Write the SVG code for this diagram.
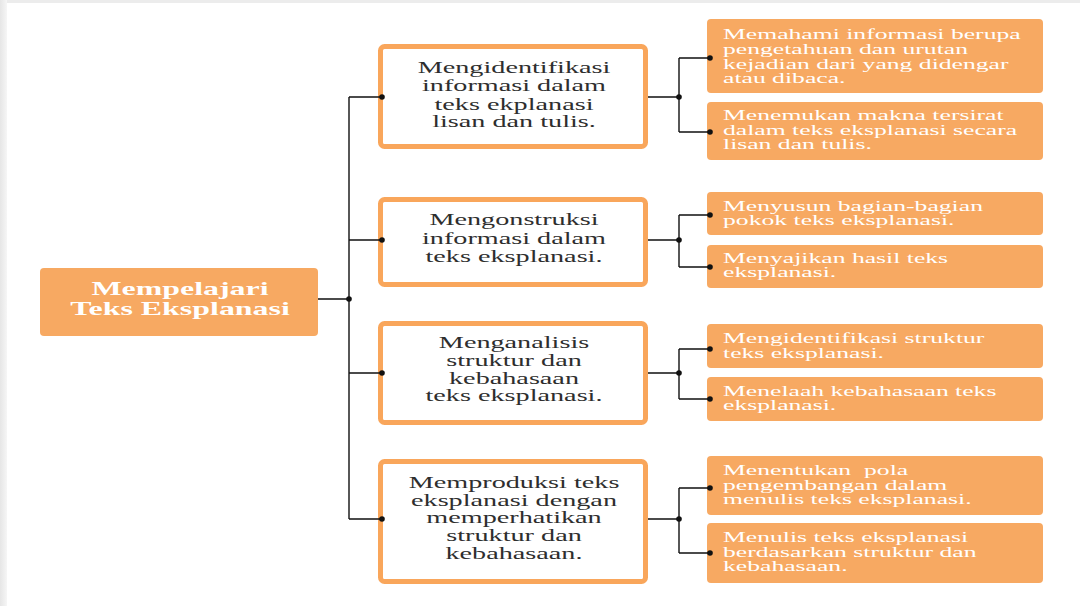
<svg xmlns="http://www.w3.org/2000/svg" width="1080" height="606" viewBox="0 0 1080 606">
<defs>
<linearGradient id="lg" x1="0" y1="0" x2="1" y2="0">
<stop offset="0" stop-color="#e6e6e6"/><stop offset="1" stop-color="#f6f6f6"/>
</linearGradient>
<style>
.root{fill:#F7A962;}
.mid{fill:#ffffff;stroke:#F9A65B;stroke-width:5;}
.sub{fill:#F7A962;}
.rt{font-family:"Liberation Serif","Times New Roman",serif;font-size:19px;font-weight:bold;fill:#ffffff;text-anchor:middle;}
.mt{font-family:"Liberation Serif","Times New Roman",serif;font-size:17px;fill:#2e2e2e;text-anchor:middle;}
.st{font-family:"Liberation Serif","Times New Roman",serif;font-size:14.5px;fill:#ffffff;}
.ln{stroke:#111111;stroke-width:1.4;fill:none;}
.dot{fill:#111111;}
</style>
</defs>
<rect width="1080" height="606" fill="#ffffff"/>
<rect x="0" y="0" width="1080" height="3" fill="#ececec"/>
<rect x="0" y="0" width="7" height="606" fill="url(#lg)"/>

<g id="root">
<rect class="root" x="40" y="268" width="278" height="68" rx="4"/>
<g transform="translate(180 0) scale(1.68 1)">
<text class="rt" x="0" y="295">Mempelajari</text>
<text class="rt" x="0" y="315">Teks Eksplanasi</text>
</g>
</g>

<g id="mid1">
<rect class="mid" x="380.5" y="46.5" width="265" height="100" rx="4"/>
<g transform="translate(514 0) scale(1.66 1)">
<text class="mt" x="0" y="73">Mengidentifikasi</text>
<text class="mt" x="0" y="91.5">informasi dalam</text>
<text class="mt" x="0" y="110">teks ekplanasi</text>
<text class="mt" x="0" y="127">lisan dan tulis.</text>
</g>
</g>

<g id="mid2">
<rect class="mid" x="380.5" y="199.5" width="265" height="85" rx="4"/>
<g transform="translate(514 0) scale(1.66 1)">
<text class="mt" x="0" y="225.5">Mengonstruksi</text>
<text class="mt" x="0" y="244">informasi dalam</text>
<text class="mt" x="0" y="262">teks eksplanasi.</text>
</g>
</g>

<g id="mid3">
<rect class="mid" x="380.5" y="323.5" width="265" height="99" rx="4"/>
<g transform="translate(514 0) scale(1.66 1)">
<text class="mt" x="0" y="348">Menganalisis</text>
<text class="mt" x="0" y="366">struktur dan</text>
<text class="mt" x="0" y="384">kebahasaan</text>
<text class="mt" x="0" y="401">teks eksplanasi.</text>
</g>
</g>

<g id="mid4">
<rect class="mid" x="380.5" y="461.5" width="265" height="120" rx="4"/>
<g transform="translate(514 0) scale(1.66 1)">
<text class="mt" x="0" y="488">Memproduksi teks</text>
<text class="mt" x="0" y="506">eksplanasi dengan</text>
<text class="mt" x="0" y="523.5">memperhatikan</text>
<text class="mt" x="0" y="541">struktur dan</text>
<text class="mt" x="0" y="559">kebahasaan.</text>
</g>
</g>

<g id="sub1a">
<rect class="sub" x="707" y="19" width="336" height="74" rx="4"/>
<g transform="translate(723 0) scale(1.77 1)">
<text class="st" x="0" y="39.5">Memahami informasi berupa</text>
<text class="st" x="0" y="54.5">pengetahuan dan urutan</text>
<text class="st" x="0" y="69">kejadian dari yang didengar</text>
<text class="st" x="0" y="83.5">atau dibaca.</text>
</g>
</g>

<g id="sub1b">
<rect class="sub" x="707" y="102" width="336" height="58" rx="4"/>
<g transform="translate(723 0) scale(1.77 1)">
<text class="st" x="0" y="120.5">Menemukan makna tersirat</text>
<text class="st" x="0" y="135">dalam teks eksplanasi secara</text>
<text class="st" x="0" y="149">lisan dan tulis.</text>
</g>
</g>

<g id="sub2a">
<rect class="sub" x="707" y="192" width="336" height="43" rx="4"/>
<g transform="translate(723 0) scale(1.77 1)">
<text class="st" x="0" y="211">Menyusun bagian-bagian</text>
<text class="st" x="0" y="225.5">pokok teks eksplanasi.</text>
</g>
</g>

<g id="sub2b">
<rect class="sub" x="707" y="245" width="336" height="43" rx="4"/>
<g transform="translate(723 0) scale(1.77 1)">
<text class="st" x="0" y="263">Menyajikan hasil teks</text>
<text class="st" x="0" y="277.5">eksplanasi.</text>
</g>
</g>

<g id="sub3a">
<rect class="sub" x="707" y="324" width="336" height="44" rx="4"/>
<g transform="translate(723 0) scale(1.77 1)">
<text class="st" x="0" y="343.5">Mengidentifikasi struktur</text>
<text class="st" x="0" y="358">teks eksplanasi.</text>
</g>
</g>

<g id="sub3b">
<rect class="sub" x="707" y="377" width="336" height="44" rx="4"/>
<g transform="translate(723 0) scale(1.77 1)">
<text class="st" x="0" y="396">Menelaah kebahasaan teks</text>
<text class="st" x="0" y="410.5">eksplanasi.</text>
</g>
</g>

<g id="sub4a">
<rect class="sub" x="707" y="456" width="336" height="59" rx="4"/>
<g transform="translate(723 0) scale(1.77 1)">
<text class="st" x="0" y="475" xml:space="preserve">Menentukan  pola</text>
<text class="st" x="0" y="490">pengembangan dalam</text>
<text class="st" x="0" y="504.5">menulis teks eksplanasi.</text>
</g>
</g>

<g id="sub4b">
<rect class="sub" x="707" y="523" width="336" height="60" rx="4"/>
<g transform="translate(723 0) scale(1.77 1)">
<text class="st" x="0" y="542.5">Menulis teks eksplanasi</text>
<text class="st" x="0" y="557">berdasarkan struktur dan</text>
<text class="st" x="0" y="571.5">kebahasaan.</text>
</g>
</g>

<g id="connectors">
<path class="ln" d="M318 299 H349 M349 97 V519 M349 97 H382 M349 240 H382 M349 373 H382 M349 519 H382"/>
<path class="ln" d="M648 97 H679 M679 58 V132 M679 58 H710 M679 132 H710"/>
<path class="ln" d="M648 240 H679 M679 215 V267 M679 215 H710 M679 267 H710"/>
<path class="ln" d="M648 373 H679 M679 349 V399 M679 349 H710 M679 399 H710"/>
<path class="ln" d="M648 519 H679 M679 488 V553 M679 488 H710 M679 553 H710"/>
<circle class="dot" cx="349" cy="299" r="2.8"/>
<circle class="dot" cx="382" cy="97" r="2.8"/>
<circle class="dot" cx="382" cy="240" r="2.8"/>
<circle class="dot" cx="382" cy="373" r="2.8"/>
<circle class="dot" cx="382" cy="519" r="2.8"/>
<circle class="dot" cx="679" cy="97" r="2.8"/>
<circle class="dot" cx="679" cy="240" r="2.8"/>
<circle class="dot" cx="679" cy="373" r="2.8"/>
<circle class="dot" cx="679" cy="519" r="2.8"/>
<circle class="dot" cx="710" cy="58" r="2.8"/>
<circle class="dot" cx="710" cy="132" r="2.8"/>
<circle class="dot" cx="710" cy="215" r="2.8"/>
<circle class="dot" cx="710" cy="267" r="2.8"/>
<circle class="dot" cx="710" cy="349" r="2.8"/>
<circle class="dot" cx="710" cy="399" r="2.8"/>
<circle class="dot" cx="710" cy="488" r="2.8"/>
<circle class="dot" cx="710" cy="553" r="2.8"/>
</g>
</svg>
